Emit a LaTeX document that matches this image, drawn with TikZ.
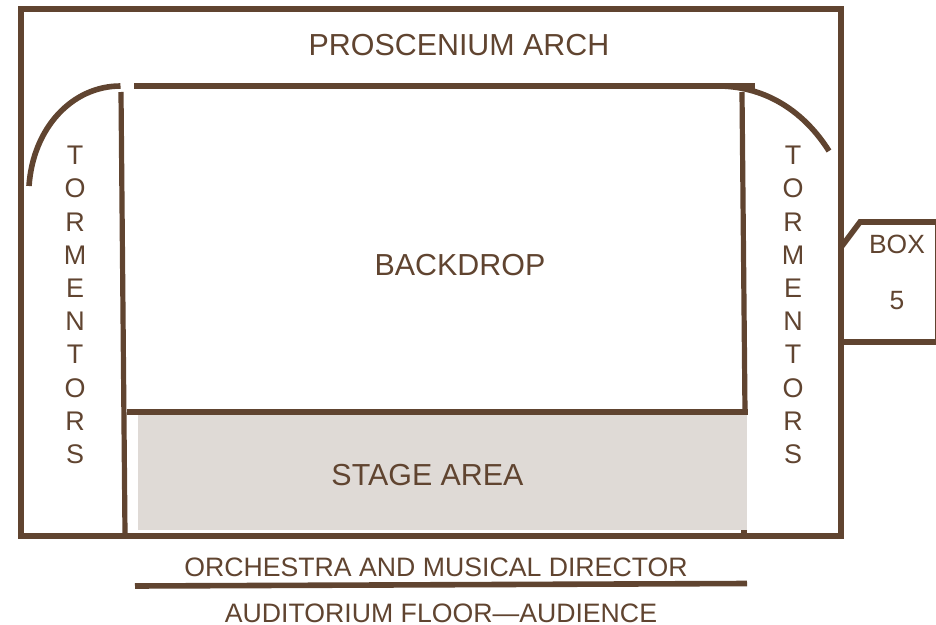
\documentclass[tikz,border=0pt]{standalone}
\usepackage{fontspec}
\setmainfont{Liberation Sans}
\definecolor{wall}{HTML}{604430}
\definecolor{stagegray}{HTML}{DFDAD6}
\tikzset{
  wallline/.style={draw=wall,line width=4.2pt},
  thinwall/.style={draw=wall,line width=3.9pt},
  lab/.style={text=wall,inner sep=0pt,font=\fontsize{20}{24}\selectfont},
  biglab/.style={text=wall,inner sep=0pt,font=\fontsize{22.8}{27}\selectfont},
  stacklab/.style={text=wall,inner sep=0pt,align=center,font=\fontsize{20.2}{24.9}\selectfont},
  boxlab/.style={text=wall,inner sep=0pt,font=\fontsize{19.8}{24}\selectfont}
}
\begin{document}
\begin{tikzpicture}[x=0.75pt,y=-0.75pt]
\useasboundingbox (0,0) rectangle (936,625);
% stage area
\fill[stagegray] (138,415) rectangle (747,530);
% outer frame
\draw[wallline,miter limit=10] (21,9) rectangle (841,536);
% box 5
\draw[wallline,line cap=butt] (842,246) -- (860,222) -- (936,222);
\draw[wallline] (841,342) -- (936,342);
\draw[draw=wall,line width=0.9pt] (935.5,222) -- (935.5,342);
% arcs
\draw[wallline] (29,186) .. controls (33,128) and (72,86) .. (120.5,86);
\draw[wallline] (829,151) .. controls (805,113) and (768,87) .. (720,86);
% backdrop lines
\draw[wallline] (134,86) -- (755,86);
\draw[thinwall] (121,92) -- (125,534);
\draw[thinwall] (742,92) -- (745,412);
\draw[wallline] (127,412) -- (748,412);
\draw[thinwall] (744,530) -- (744,534);
% orchestra line
\draw[wallline] (135,586) -- (747,583.5);
% labels
\node[biglab] (arch) at (459,45) {PROSCENIUM ARCH};
\node[biglab] (backdrop) at (460,265) {BACKDROP};
\node[biglab] (stage) at (427.5,475) {STAGE AREA};
\node[lab] (orch) at (436,567) {ORCHESTRA AND MUSICAL DIRECTOR};
\node[lab] (aud) at (441,613) {AUDITORIUM FLOOR—AUDIENCE};
\node[stacklab] (tl) at (75,305) {T\\O\\R\\M\\E\\N\\T\\O\\R\\S};
\node[stacklab] (tr) at (793,305) {T\\O\\R\\M\\E\\N\\T\\O\\R\\S};
\node[boxlab] (box) at (897,244) {BOX};
\node[boxlab] (five) at (897,301) {5};
\end{tikzpicture}
\end{document}
